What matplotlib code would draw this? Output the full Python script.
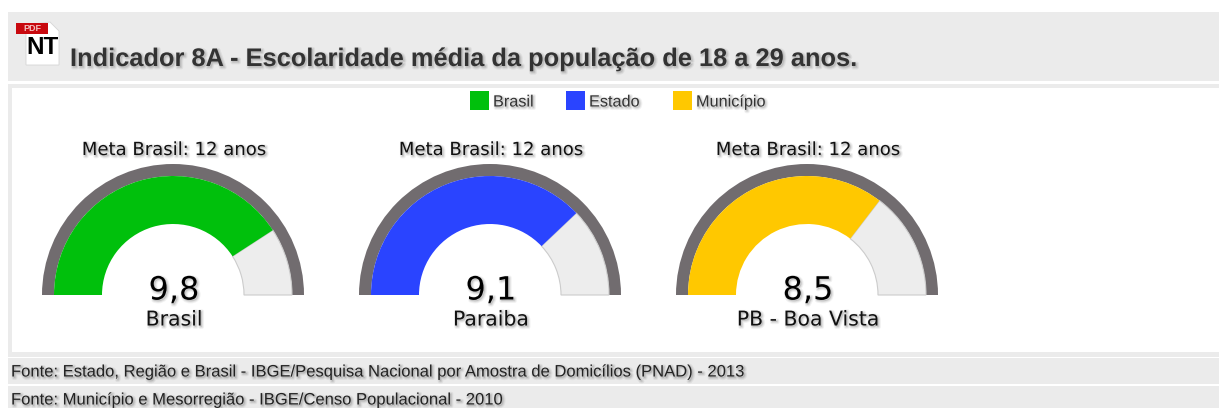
#!/usr/bin/env python
# -*- coding: utf-8 -*-
import matplotlib
matplotlib.use('Agg')
import matplotlib.pyplot as plt
import matplotlib.patheffects as pe
from matplotlib.patches import Rectangle, Wedge, Polygon

W, H = 1219, 408
SANS = 'Liberation Sans'

title = 'Indicador 8A - Escolaridade média da população de 18 a 29 anos.'
legend_names = ['Brasil', 'Estado', 'Município']
legend_colors = ['#00c00c', '#2a44ff', '#ffc800']
gauge_values = [9.8, 9.1, 8.5]
gauge_labels = ['Brasil', 'Paraiba', 'PB - Boa Vista']
gauge_max = 12
meta = 'Meta Brasil: 12 anos'
sources = ['Fonte: Estado, Região e Brasil - IBGE/Pesquisa Nacional por Amostra de Domicílios (PNAD) - 2013',
           'Fonte: Município e Mesorregião - IBGE/Censo Populacional - 2010']


def soft(ax, x, y, s, **kw):
    # fake blurred text shadow, two faint strokes shifted down right
    t = ax.text(x, y, s, **kw)
    t.set_path_effects([
        pe.Stroke(offset=(1, -1), linewidth=3, foreground='k', alpha=0.05),
        pe.Stroke(offset=(1, -1), linewidth=1.5, foreground='k', alpha=0.07),
        pe.Normal()])
    return t


def gauge(ax, cx, val, color, label):
    base = 295
    ang = 180 - 180.0 * val / gauge_max
    # y axis is inverted, so wedge angles run the other way
    ax.add_patch(Wedge((cx, base), 131, 180, 360, width=12, fc='#716c6f', ec='none'))
    ax.add_patch(Wedge((cx, base), 119, 360 - ang, 360, width=48, fc='#ededed',
                       ec='#cccccc', lw=0.8))
    ax.add_patch(Wedge((cx, base), 119, 180, 360 - ang, width=48, fc=color, ec='none'))
    soft(ax, cx + 1, 150, meta, fontsize=13, ha='center', va='center',
         color='#111111', family='DejaVu Sans')
    soft(ax, cx + 1, 291, ('%.1f' % val).replace('.', ','), fontsize=23, ha='center',
         va='center', color='black', family='DejaVu Sans')
    soft(ax, cx + 1, 320, label, fontsize=14.7, ha='center', va='center',
         color='#111111', family='DejaVu Sans')


def main():
    fig = plt.figure(figsize=(W / 100.0, H / 100.0), dpi=100, facecolor='white')
    ax = fig.add_axes([0, 0, 1, 1])
    ax.set_xlim(0, W)
    ax.set_ylim(H, 0)
    ax.axis('off')

    # panels
    ax.add_patch(Rectangle((7.5, 12), W - 7, 69, fc='#ebebeb', ec='none'))
    ax.add_patch(Rectangle((7.5, 83.5), W - 7, 273, fc='#ebebeb', ec='none'))
    ax.add_patch(Rectangle((11.5, 88), W - 11, 264, fc='white', ec='none'))
    ax.add_patch(Rectangle((7.5, 358), W - 7, 26, fc='#ebebeb', ec='none'))
    ax.add_patch(Rectangle((7.5, 386), W - 7, 22, fc='#ebebeb', ec='none'))

    # pdf icon
    ax.add_patch(Polygon([(26, 25), (50, 22), (59, 31), (59, 65), (26, 65)],
                         fc='white', ec='#d5d5d5', lw=0.6))
    ax.add_patch(Rectangle((16, 23), 32, 11, fc='#c8080e', ec='none'))
    ax.text(32, 28.5, 'PDF', fontsize=6.5, color='#f4c0c0', ha='center', va='center',
            family=SANS, fontweight='bold')
    ax.text(42.5, 48, 'NT', fontsize=17.5, color='black', ha='center', va='center',
            family=SANS, fontweight='bold')

    soft(ax, 70, 59, title, fontsize=18.3, fontweight='bold', color='#333333',
         ha='left', va='center', family=SANS)

    # legend
    for x, name, col in zip([470, 566, 673], legend_names, legend_colors):
        ax.add_patch(Rectangle((x, 91), 19, 19, fc=col, ec='none'))
        soft(ax, x + 23, 102, name, fontsize=11.7, color='#333333', ha='left',
             va='center', family=SANS)

    for cx, val, col, lab in zip([173, 490, 807], gauge_values, legend_colors, gauge_labels):
        gauge(ax, cx, val, col, lab)

    for y, s in zip([372, 400], sources):
        soft(ax, 11, y, s, fontsize=11.95, color='#222222', ha='left', va='center',
             family=SANS)

    fig.savefig('out.png', dpi=100)


if __name__ == '__main__':
    main()
